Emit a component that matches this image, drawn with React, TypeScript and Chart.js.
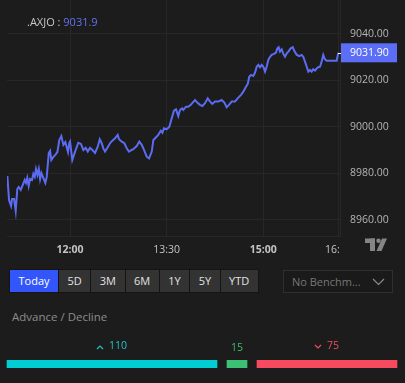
import React, { useEffect, useRef } from "react";
import { Chart, registerables } from "chart.js";
Chart.register(...registerables);

// ---------- data ----------
const symbol = ".AXJO";
const headerValue = "9031.9";
// minutes after 11:00
const minutes = [1.6,3.2,5.1,6.0,7.9,9.4,10.9,12.2,14.1,16.0,17.8,19.0,20.2,21.5,22.8,24.6,25.8,27.1,28.3,29.6,30.9,32.1,33.3,35.1,37.0,38.3,40.2,41.4,42.6,44.5,46.3,48.2,50.0,51.9,53.8,55.6,58.1,59.3,60.0,62.1,64.7,67.7,70.2,72.4,74.6,76.5,78.6,80.8,83.3,85.8,87.7,89.5,91.0,92.6,95.1,97.2,99.4,101.9,104.4,105.6,108.1,110.6,112.8,114.9,117.4,118.9,122.1,124.5,126.8,128.9,131.4,133.6,136.1,137.6,140.1,142.2,144.5,146.0,147.5,150.0,152.5,154.7,156.8,158.7,160.8,162.4,164.3,165.5,168.0,170.1,172.4,174.2,176.4,178.5,181.0,183.2,185.7,188.2,190.4,192.5,195.0,198.1,201.2,203.7,205.9,208.0,210.6,213.6,216.1,219.2,221.4,223.6,225.5,226.9,228.5,230.7,232.3,233.8,235.3,236.9,238.5,240.0,241.6,243.1,244.6,246.2,247.8,249.9,251.8,253.0,254.3,255.5,257.1,258.6,260.2,261.8,263.3,265.5,267.4,268.8,271.1,273.5,275.7,277.2,278.8,280.4,281.9,283.5,285.0,286.5,288.1,289.7,291.2,292.8,294.3,295.8,297.4,299.0,302.1,308.3,309.8];
const prices = [8978.9,8968.6,8966.0,8969.0,8969.0,8963.9,8973.3,8974.2,8972.9,8975.1,8977.2,8975.9,8978.1,8974.6,8977.6,8977.2,8979.8,8978.5,8981.9,8979.4,8981.9,8977.6,8980.2,8978.1,8975.9,8978.5,8988.8,8989.7,8985.8,8987.1,8988.0,8989.2,8994.4,8996.1,8992.3,8993.5,8989.2,8993.1,8993.7,8985.8,8989.4,8993.2,8992.7,8990.1,8991.0,8989.4,8991.0,8990.1,8988.8,8991.5,8994.7,8993.0,8990.8,8989.4,8991.3,8993.0,8994.1,8995.1,8996.6,8994.7,8993.7,8993.0,8990.8,8989.4,8990.1,8990.4,8991.8,8993.7,8992.3,8990.1,8987.2,8986.5,8989.4,8994.4,8995.6,8996.6,8998.4,8997.5,8999.4,8999.0,9000.1,9003.7,9007.0,9007.6,9004.7,9007.3,9008.0,9007.3,9008.7,9008.7,9009.5,9010.5,9011.6,9010.5,9009.5,9009.0,9010.2,9012.3,9010.9,9009.9,9010.9,9010.9,9011.6,9010.5,9008.5,9009.5,9010.9,9010.9,9012.3,9013.8,9015.2,9017.1,9018.5,9021.6,9022.4,9021.9,9023.4,9025.9,9026.7,9025.7,9026.7,9025.9,9023.8,9025.9,9028.8,9030.2,9031.0,9031.4,9032.0,9033.8,9034.3,9032.4,9033.4,9031.4,9030.2,9031.7,9032.4,9033.8,9034.3,9032.8,9031.0,9030.5,9031.0,9030.2,9028.1,9025.9,9023.8,9024.5,9023.8,9024.8,9024.2,9025.2,9025.7,9025.9,9028.1,9031.0,9029.1,9028.5,9028.5,9028.5,9031.9];
const timeTickMinutes = [60, 150, 240, 310];
const timeTickLabels = ["12:00", "13:30", "15:00", "16:10"];
const priceStep = 20;
const xMin = 1.3;
const xMax = 311.4;
const yMin = 8953.1;
const yMax = 9054.6;

const periods = ["Today", "5D", "3M", "6M", "1Y", "5Y", "YTD"];
const benchmarkLabel = "No Benchm...";
const breadthTitle = "Advance / Decline";
const breadthNames = ["Advance", "Unchanged", "Decline"];
const breadthValues = [110, 15, 75];

// ---------- styles ----------
const BG = "#1c1c1c";
const GRID = "#272727";
const LINE = "#5b6cf2";
const TAG = "#5b6ef5";
const FONT = "'Open Sans', 'DejaVu Sans', sans-serif";
const breadthColors = ["#00ced3", "#3cc173", "#f64a5f"];
const breadthTextColors = ["#1ec6c8", "#3cbd6e", "#f24c5e"];

function PriceChart() {
  const ref = useRef<HTMLCanvasElement>(null);
  useEffect(() => {
    const canvas = ref.current as HTMLCanvasElement;
    const last = prices[prices.length - 1];
    const overlay = {
      id: "overlay",
      afterDraw(chart: any) {
        const { ctx, chartArea, scales } = chart;
        const xs = scales.x;
        const ys = scales.y;
        // time labels, clipped to plot width
        ctx.save();
        ctx.beginPath();
        ctx.rect(chartArea.left, chartArea.bottom, chartArea.right - chartArea.left, 30);
        ctx.clip();
        ctx.textAlign = "center";
        ctx.textBaseline = "middle";
        ctx.fillStyle = "#c4c4c4";
        timeTickMinutes.forEach((m, i) => {
          const lbl = timeTickLabels[i];
          ctx.font = `${lbl.endsWith(":00") ? "bold " : ""}10.5px ${FONT}`;
          ctx.fillText(lbl, xs.getPixelForValue(m), chartArea.bottom + 14);
        });
        ctx.restore();

        // last price tag
        const py = ys.getPixelForValue(last);
        ctx.save();
        ctx.fillStyle = TAG;
        ctx.fillRect(chartArea.right + 1, py - 9.5, 56, 19);
        ctx.strokeStyle = "#ffffff";
        ctx.lineWidth = 1;
        ctx.beginPath();
        ctx.moveTo(chartArea.right - 2, Math.round(py) + 0.5);
        ctx.lineTo(chartArea.right + 1, Math.round(py) + 0.5);
        ctx.stroke();
        ctx.fillStyle = "#ffffff";
        ctx.font = `10.5px ${FONT}`;
        ctx.textAlign = "left";
        ctx.textBaseline = "middle";
        ctx.fillText(last.toFixed(2), chartArea.right + 10, py + 0.5);
        ctx.restore();

        // header
        ctx.save();
        ctx.font = `11px ${FONT}`;
        ctx.textBaseline = "middle";
        ctx.textAlign = "left";
        ctx.fillStyle = "#c6c6c6";
        const head = symbol + " : ";
        ctx.fillText(head, 27, 22.5);
        const w = ctx.measureText(head).width;
        ctx.fillStyle = "#6273f3";
        ctx.fillText(headerValue, 27 + w, 22.5);
        ctx.restore();

        // logo
        ctx.save();
        ctx.fillStyle = "#858585";
        const lx = chartArea.right + 25;
        const ly = chartArea.bottom + 2.5;
        ctx.fillRect(lx, ly, 10, 4.5);
        ctx.fillRect(lx + 5, ly, 5, 12.5);
        ctx.beginPath();
        ctx.arc(lx + 13.5, ly + 2.3, 2.2, 0, Math.PI * 2);
        ctx.fill();
        ctx.beginPath();
        ctx.moveTo(lx + 17, ly);
        ctx.lineTo(lx + 22, ly);
        ctx.lineTo(lx + 16.5, ly + 12.5);
        ctx.lineTo(lx + 11.5, ly + 12.5);
        ctx.closePath();
        ctx.fill();
        ctx.restore();
      },
    };

    const chart = new Chart(canvas, {
      type: "line",
      data: {
        datasets: [
          {
            data: minutes.map((m, i) => ({ x: m, y: prices[i] })),
            borderColor: LINE,
            borderWidth: 2,
            pointRadius: 0,
            tension: 0,
            fill: false,
          },
        ],
      },
      options: {
        animation: false,
        responsive: false,
        devicePixelRatio: 1,
        layout: { padding: { left: 7, top: 0, right: 0, bottom: 0 } },
        plugins: { legend: { display: false }, tooltip: { enabled: false } },
        events: [],
        scales: {
          x: {
            type: "linear",
            min: xMin,
            max: xMax,
            afterBuildTicks: (s: any) => {
              s.ticks = timeTickMinutes.map((v) => ({ value: v }));
            },
            afterFit: (s: any) => {
              s.height = 24;
            },
            ticks: { display: false },
            grid: { color: GRID, drawTicks: false, lineWidth: 1 },
            border: { display: true, color: GRID },
          },
          y: {
            position: "right",
            min: yMin,
            max: yMax,
            afterBuildTicks: (s: any) => {
              s.ticks = s.ticks.filter((t: any) => Math.abs(t.value % priceStep) < 1e-6);
            },
            afterFit: (s: any) => {
              s.width = 65;
              s.paddingTop = 0;
              s.paddingBottom = 0;
            },
            ticks: {
              stepSize: priceStep,
              includeBounds: false,
              padding: 10,
              color: "#b4b4b4",
              font: { family: FONT, size: 10.5 },
              callback: (v: any) => Number(v).toFixed(2),
            },
            grid: { color: GRID, drawTicks: false },
            border: { display: true, color: GRID },
          },
        },
      } as any,
      plugins: [overlay],
    });
    return () => chart.destroy();
  }, []);
  return (
    <canvas
      ref={ref}
      width={405}
      height={260}
      style={{ position: "absolute", left: 0, top: 0, width: 405, height: 260 }}
    />
  );
}

function BreadthChart() {
  const ref = useRef<HTMLCanvasElement>(null);
  useEffect(() => {
    const canvas = ref.current as HTMLCanvasElement;
    const labelsPlugin = {
      id: "breadthLabels",
      afterDraw(chart: any) {
        const { ctx } = chart;
        ctx.save();
        ctx.font = `10.5px ${FONT}`;
        ctx.textBaseline = "middle";
        ctx.textAlign = "left";
        breadthValues.forEach((v, i) => {
          const bar = chart.getDatasetMeta(i).data[0];
          const cx = (bar.x + bar.base) / 2;
          const txt = String(v);
          const tw = ctx.measureText(txt).width;
          const hasChev = i !== 1;
          const total = hasChev ? tw + 12 : tw;
          let x0 = cx - total / 2;
          const y = i === 1 ? 13.5 : 11.5;
          ctx.fillStyle = breadthTextColors[i];
          ctx.strokeStyle = breadthTextColors[i];
          ctx.lineWidth = 1.2;
          if (hasChev) {
            ctx.beginPath();
            if (i === 0) {
              ctx.moveTo(x0, y + 2.5);
              ctx.lineTo(x0 + 3, y - 0.5);
              ctx.lineTo(x0 + 6, y + 2.5);
            } else {
              ctx.moveTo(x0, y - 1.5);
              ctx.lineTo(x0 + 3, y + 1.5);
              ctx.lineTo(x0 + 6, y - 1.5);
            }
            ctx.stroke();
            x0 += 12;
          }
          ctx.fillText(txt, x0, y);
        });
        ctx.restore();
      },
    };
    const chart = new Chart(canvas, {
      type: "bar",
      data: {
        labels: [breadthTitle],
        datasets: breadthValues.map((v, i) => ({
          label: breadthNames[i],
          data: [v],
          backgroundColor: breadthColors[i],
          borderColor: BG,
          borderWidth: { left: 5, right: 5, top: 0, bottom: 0 },
          borderSkipped: false,
          barThickness: 8,
        })),
      },
      options: {
        indexAxis: "y",
        animation: false,
        responsive: false,
        devicePixelRatio: 1,
        events: [],
        layout: { padding: { left: 2, right: 3, top: 18, bottom: 0 } },
        plugins: { legend: { display: false }, tooltip: { enabled: false } },
        scales: {
          x: {
            stacked: true,
            display: false,
            min: 0,
            max: breadthValues.reduce((a, b) => a + b, 0),
          },
          y: { stacked: true, display: false },
        },
      } as any,
      plugins: [labelsPlugin],
    });
    return () => chart.destroy();
  }, []);
  return (
    <canvas
      ref={ref}
      width={405}
      height={40}
      style={{ position: "absolute", left: 0, top: 335, width: 405, height: 40 }}
    />
  );
}

export default function App() {
  return (
    <div
      style={{
        position: "absolute",
        left: 0,
        top: 0,
        width: 405,
        height: 383,
        background: BG,
        overflow: "hidden",
        fontFamily: FONT,
      }}
    >
      <PriceChart />
      <div
        style={{
          position: "absolute",
          left: 9,
          top: 269,
          display: "flex",
          gap: 1,
          padding: 1,
          background: "#141414",
        }}
      >
        {periods.map((p, i) => (
          <div
            key={p}
            style={{
              height: 22,
              lineHeight: "22px",
              padding: "0 8.5px",
              fontSize: 11,
              color: i === 0 ? "#ffffff" : "#e2e2e2",
              background: i === 0 ? "#3356fa" : "#333333",
              boxSizing: "border-box",
            }}
          >
            {p}
          </div>
        ))}
      </div>
      <div
        style={{
          position: "absolute",
          left: 283,
          top: 270,
          width: 110,
          height: 23,
          boxSizing: "border-box",
          border: "1px solid #2f2f2f",
          background: "#1a1a1a",
          color: "#777777",
          fontSize: 11,
          lineHeight: "21px",
          paddingLeft: 8,
        }}
      >
        {benchmarkLabel}
        <svg
          width={13}
          height={8}
          style={{ position: "absolute", left: 88, top: 7 }}
        >
          <polyline points="1,1 6.5,6.5 12,1" fill="none" stroke="#8a8a8a" strokeWidth={1.2} />
        </svg>
      </div>
      <div
        style={{
          position: "absolute",
          left: 12,
          top: 308,
          fontSize: 11.5,
          lineHeight: "18px",
          color: "#8c8c8c",
        }}
      >
        {breadthTitle}
      </div>
      <BreadthChart />
    </div>
  );
}
